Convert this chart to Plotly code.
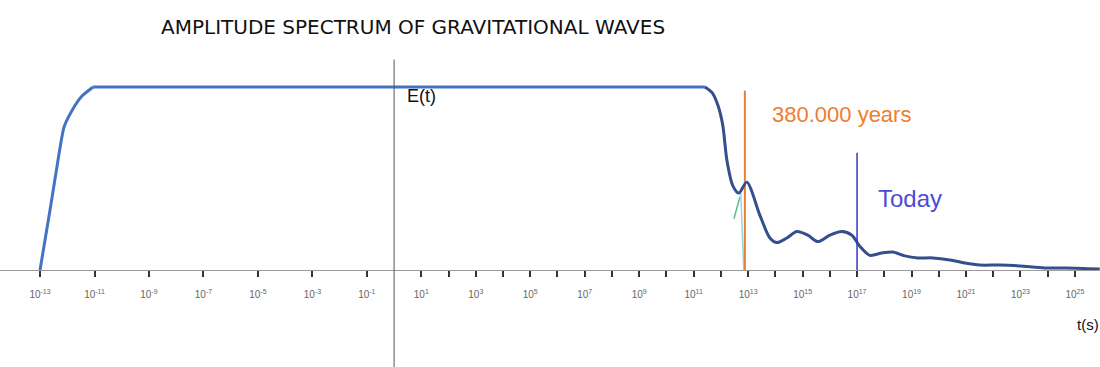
import plotly.graph_objects as go

# ---- data (x = log10 of t in seconds) ----
rise_x = [-13.0, -12.63, -12.34, -12.12, -11.83, -11.46, -11.05]
rise_y = [0.0, 0.33, 0.60, 0.78, 0.87, 0.95, 1.0]

plateau_x = [-11.05, 11.41]
plateau_y = [1.0, 1.0]

tail_x = [11.41, 11.67, 11.89, 12.07, 12.22, 12.44, 12.66, 12.95, 13.43, 13.80, 14.06, 14.42,
          14.79, 15.19, 15.56, 16.0, 16.44, 16.81, 17.10, 17.47, 17.91, 18.31, 18.75, 19.23,
          19.78, 20.41, 20.96, 21.51, 22.24, 22.98, 23.89, 24.70, 25.91]
tail_y = [1.0, 0.97, 0.90, 0.79, 0.60, 0.46, 0.42, 0.48, 0.30, 0.175, 0.15, 0.175,
          0.21, 0.19, 0.155, 0.19, 0.21, 0.19, 0.13, 0.08, 0.093, 0.098, 0.077, 0.066,
          0.066, 0.055, 0.038, 0.027, 0.027, 0.022, 0.011, 0.011, 0.005]

cyan_x = [12.73, 12.84]
cyan_y = [0.42, 0.0]
green_x = [12.48, 12.70]
green_y = [0.28, 0.40]

label_exps = [-13, -11, -9, -7, -5, -3, -1, 1, 3, 5, 7, 9, 11, 13, 15, 17, 19, 21, 23, 25]
minor_exps = [2, 4, 6, 8, 10, 12, 14, 16, 18, 20, 22, 24]

recomb_x = 12.88
recomb_top = 0.98
today_x = 17.0
today_top = 0.64

Y_MIN, Y_MAX = -0.53, 1.475

tickvals = label_exps + minor_exps
ticktext = ["10<sup>%d</sup>" % e for e in label_exps] + [""] * len(minor_exps)

fig = go.Figure()
fig.add_trace(go.Scatter(x=green_x, y=green_y, mode="lines",
                         line=dict(color="#5BBF8A", width=1.5), hoverinfo="skip"))
fig.add_trace(go.Scatter(x=cyan_x, y=cyan_y, mode="lines",
                         line=dict(color="#8FD8E8", width=1.5), hoverinfo="skip"))
fig.add_trace(go.Scatter(x=[recomb_x, recomb_x], y=[0, recomb_top], mode="lines",
                         line=dict(color="#ED7D31", width=2), hoverinfo="skip"))
fig.add_trace(go.Scatter(x=rise_x, y=rise_y, mode="lines",
                         line=dict(color="#4472C4", width=3, shape="spline", smoothing=0.6)))
fig.add_trace(go.Scatter(x=plateau_x, y=plateau_y, mode="lines",
                         line=dict(color="#4472C4", width=3)))
fig.add_trace(go.Scatter(x=tail_x, y=tail_y, mode="lines",
                         line=dict(color="#34508C", width=3, shape="spline", smoothing=0.8)))
fig.add_trace(go.Scatter(x=[today_x, today_x], y=[0, today_top], mode="lines",
                         line=dict(color="#3535C8", width=1.5), hoverinfo="skip"))

# vertical axis line at t = 1 s
fig.add_shape(type="line", x0=0, x1=0, y0=Y_MIN, y1=1.15, yref="y", xref="x",
              line=dict(color="#555555", width=1))

fig.add_annotation(x=0.69, y=1.33, text="AMPLITUDE SPECTRUM OF GRAVITATIONAL WAVES",
                   showarrow=False, font=dict(family="DejaVu Sans", size=20, color="#111111"),
                   xanchor="center", yanchor="middle")
fig.add_annotation(x=0.40, y=0.95, text="E(t)", showarrow=False,
                   font=dict(family="Liberation Sans", size=18, color="#111111"),
                   xanchor="left", yanchor="middle")
fig.add_annotation(x=25.0, y=-0.30, text="t(s)", showarrow=False,
                   font=dict(family="Liberation Sans", size=15, color="#111111"),
                   xanchor="left", yanchor="middle")
fig.add_annotation(x=13.80, y=0.85, text="380.000 years", showarrow=False,
                   font=dict(family="Liberation Sans", size=22, color="#ED7D31"),
                   xanchor="left", yanchor="middle")
fig.add_annotation(x=17.69, y=0.39, text="Today", showarrow=False,
                   font=dict(family="Liberation Sans", size=24, color="#4B4BD6"),
                   xanchor="left", yanchor="middle")

axis_pos = (0 - Y_MIN) / (Y_MAX - Y_MIN)

fig.update_layout(
    width=1100, height=367, margin=dict(l=0, r=0, t=0, b=0, autoexpand=False),
    paper_bgcolor="white", plot_bgcolor="white", showlegend=False,
    xaxis=dict(range=[-14.47, 25.92], showgrid=False, zeroline=False, automargin=False,
               showline=True, linecolor="#999999", linewidth=1,
               tickmode="array", tickvals=tickvals, ticktext=ticktext,
               ticks="outside", ticklen=6, tickwidth=2, tickcolor="#333333",
               ticklabelstandoff=9,
               tickfont=dict(family="Liberation Sans", size=10, color="#666666"),
               anchor="free", position=axis_pos),
    yaxis=dict(range=[Y_MIN, Y_MAX], showgrid=False, zeroline=False, automargin=False,
               showticklabels=False, ticks="", showline=False),
)
fig.write_html("out.html")
